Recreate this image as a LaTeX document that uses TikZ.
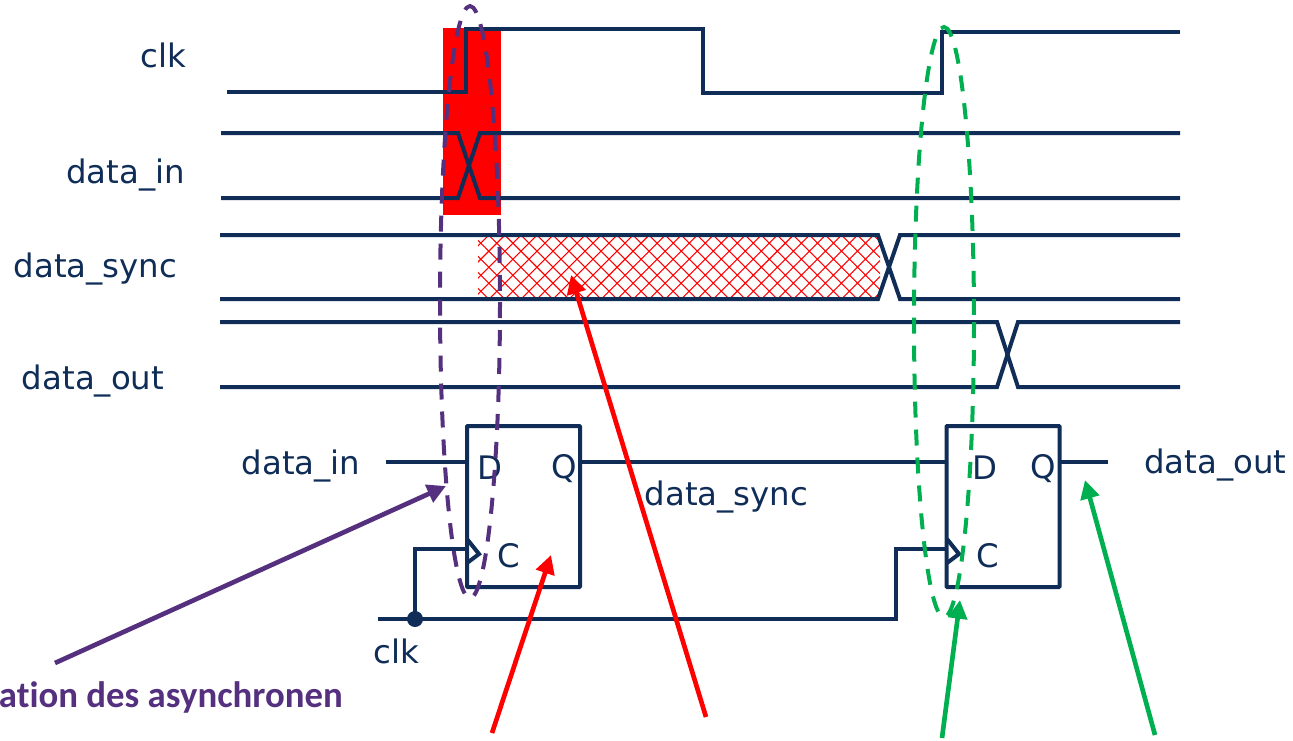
\documentclass[tikz,border=0pt]{standalone}
\usepackage{fontspec}
\setmainfont{DejaVu Sans}
\newfontfamily\notefont{Carlito}
\usetikzlibrary{arrows.meta,patterns.meta}
\definecolor{wirenavy}{RGB}{15,45,87}
\definecolor{notepurple}{RGB}{84,48,127}
\definecolor{notegreen}{RGB}{0,176,80}
\tikzset{
	wire/.style={draw=wirenavy,line width=3pt,line join=miter},
	label/.style={text=wirenavy,font=\fontsize{24.3}{28}\selectfont,inner sep=0pt},
	pin/.style={text=wirenavy,font=\fontsize{24.3}{28}\selectfont,inner sep=0pt},
	flop/.style={draw=wirenavy,line width=3pt,rounded corners=0.5pt,minimum width=84.75pt,minimum height=120.75pt,outer sep=0pt,inner sep=0pt},
	ring/.style={dash pattern=on 12pt off 9pt,line width=3pt},
	pointer/.style={line width=3.5pt,-{Triangle[length=14pt,width=14pt]}}
}

\begin{document}
\begin{tikzpicture}[x=0.75pt,y=-0.75pt]
	\clip (0,0) rectangle (1293,740);
	\useasboundingbox (0,0) rectangle (1293,740);
	\coordinate (c1) at (227,92);
	\coordinate (c2) at (466,92);
	\coordinate (c3) at (466,29);
	\coordinate (c4) at (703,29);
	\coordinate (c5) at (703,93);
	\coordinate (c6) at (942,93);
	\coordinate (c7) at (942,32);
	\coordinate (c8) at (1180,32);

	\fill[red] (443,28) rectangle (501,215);
	\path[pattern={Lines[angle=45,distance=8.5pt,line width=0.8pt]},pattern color=red] (478,236) rectangle (880,298);
	\path[pattern={Lines[angle=-45,distance=8.5pt,line width=0.8pt]},pattern color=red] (478,236) rectangle (880,298);

	% waveforms
	\draw[wire] (c1)--(c2)--(c3)--(c4)--(c5)--(c6)--(c7)--(c8);
	\draw[wire] (221,133)--(458,133)--(480,198)--(1180,198);
	\draw[wire] (221,198)--(458,198)--(480,133)--(1180,133);
	\draw[wire] (220,235)--(878,235)--(900,299)--(1180,299);
	\draw[wire] (220,299)--(878,299)--(900,235)--(1180,235);
	\draw[wire] (220,322)--(997,322)--(1018,387)--(1180,387);
	\draw[wire] (220,387)--(997,387)--(1018,322)--(1180,322);

	\node[label] (clk_name) at (163,55) {clk};
	\node[label] (in_name) at (125.5,175) {data\_in};
	\node[label] (sync_name) at (95.5,269) {data\_sync};
	\node[label] (out_name) at (93,381) {data\_out};

	% flip-flops
	\node[flop] (ff1) at (523.5,506.5) {};
	\node[flop] (ff2) at (1003,506.5) {};
	\node[pin] (d1) at (490,468) {D};
	\node[pin] (q1) at (564,469) {Q};
	\node[pin] (c_1) at (509,556) {C};
	\node[pin] (d2) at (985,468) {D};
	\node[pin] (q2) at (1043,469) {Q};
	\node[pin] (c_2) at (988,556) {C};
	\node[label] (in_pin) at (301,466) {data\_in};
	\node[label] (sync_wire) at (726.5,497) {data\_sync};
	\node[label] (out_pin) at (1215.5,465) {data\_out};
	\node[label] (clk_pin) at (396,651) {clk};

	\coordinate (in_start) at (386,462);
	\coordinate (ff1_d) at (467,462);
	\coordinate (ff1_q) at (580,462);
	\coordinate (ff2_d) at (947,462);
	\coordinate (ff2_q) at (1059,462);
	\coordinate (out_end) at (1108,462);
	\coordinate (ff1_c) at (467,549);
	\coordinate (ff2_c) at (947,549);
	\coordinate (clk_start) at (378,619);
	\coordinate (clk_turn) at (896,619);
	\node[circle,fill=wirenavy,inner sep=0pt,minimum size=12pt] (clk_dot) at (415,619) {};

	\draw[wire] (in_start)--(ff1_d);
	\draw[wire] (ff1_q)--(ff2_d);
	\draw[wire] (ff2_q)--(out_end);
	\draw[wire] (clk_start)--(clk_turn)--(896,549)--(ff2_c);
	\draw[wire] (clk_dot.center)--(415,549)--(ff1_c);
	\draw[wire] (467,539)--(479,554)--(467,563);
	\draw[wire] (947,539)--(959,554)--(947,563);

	% timing windows
	\draw[notepurple,ring] (470,302) ellipse (30 and 296);
	\draw[notegreen,ring] (944,322) ellipse (30 and 295);

	% notes
	\node[anchor=base east,text=notepurple,font=\notefont\bfseries\fontsize{27.6}{32}\selectfont,inner sep=0pt] (note) at (343,707) {at\kern0pt ion des asynchronen};
	\coordinate (p1) at (55,663);
	\coordinate (p1_end) at (446,486);
	\coordinate (r1) at (492,733);
	\coordinate (r1_end) at (551,555);
	\coordinate (r2) at (706,717);
	\coordinate (r2_end) at (571,275);
	\coordinate (g1) at (942,738);
	\coordinate (g1_end) at (960,600);
	\coordinate (g2) at (1155,735);
	\coordinate (g2_end) at (1085,480);
	\draw[pointer,notepurple] (p1)--(p1_end);
	\draw[pointer,red] (r1)--(r1_end);
	\draw[pointer,red] (r2)--(r2_end);
	\draw[pointer,notegreen] (g1)--(g1_end);
	\draw[pointer,notegreen] (g2)--(g2_end);
\end{tikzpicture}
\end{document}
